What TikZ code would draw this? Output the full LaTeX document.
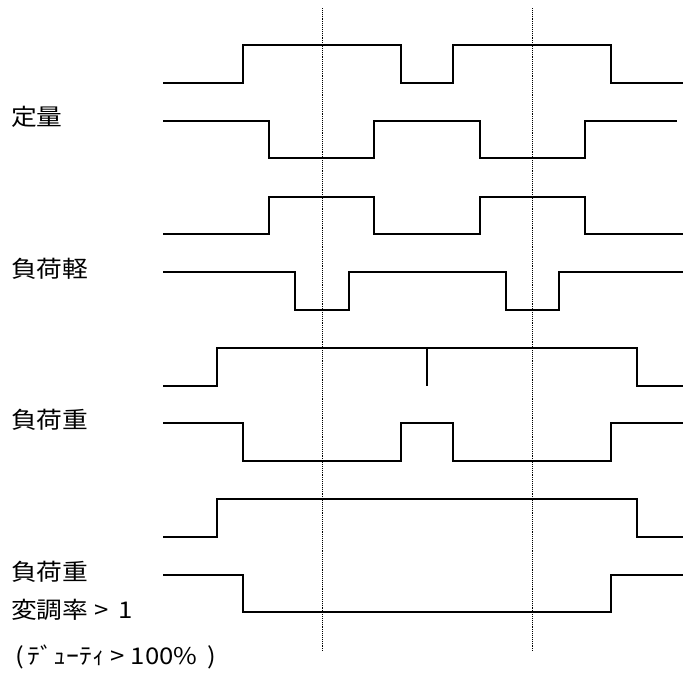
\documentclass[tikz,border=0pt]{standalone}
\usepackage{fontspec}
\setmainfont[FakeStretch=1.12]{Noto Sans CJK JP}
\usepackage{tikz}

\begin{document}
\begin{tikzpicture}[
        x=1pt, y=-1pt,
        every node/.style = {inner sep=0pt, anchor=west, font=\fontsize{23}{26}\selectfont},
        wave/.style = {line width=1.6pt, line join=miter},
        guide/.style = {densely dotted, line width=0.9pt},
      ]
      \useasboundingbox (0,0) rectangle (684,672);

      % dotted time marks
      \foreach \x in {322, 532}
        \draw[guide] (\x,8) -- (\x,651);

      % labels
      \node (teiryo) at (11,117) {定量};
      \node (kei) at (11,269) {負荷軽};
      \node (ju) at (11,420) {負荷重};
      \node (ju2) at (11,572) {負荷重};
      \node (mod) at (11,610) {変調率 > \,1};
      \node (duty) at (15,657) {(\,ﾃﾞｭｰﾃｨ > 100\% \,)};

      % 定量
      \draw[wave] (163,83) -| (243,45) -| (401,83) -| (453,45) -| (611,83) -- (683,83);
      \draw[wave] (163,121) -| (269,158) -| (374,121) -| (480,158) -| (585,121) -- (677,121);

      % 負荷軽
      \draw[wave] (163,234) -| (269,197) -| (374,234) -| (480,197) -| (585,234) -- (683,234);
      \draw[wave] (163,272) -| (295,310) -| (349,272) -| (506,310) -| (559,272) -- (683,272);

      % 負荷重
      \draw[wave] (163,386) -| (217,348) -| (637,386) -- (683,386);
      \draw[wave] (427,348) -- (427,386);
      \draw[wave] (163,423) -| (243,461) -| (401,423) -| (453,461) -| (611,423) -- (683,423);

      % 負荷重, 変調率 > 1
      \draw[wave] (163,537) -| (217,499) -| (637,537) -- (683,537);
      \draw[wave] (163,575) -| (243,612) -| (611,575) -- (683,575);

    \end{tikzpicture}
\end{document}
